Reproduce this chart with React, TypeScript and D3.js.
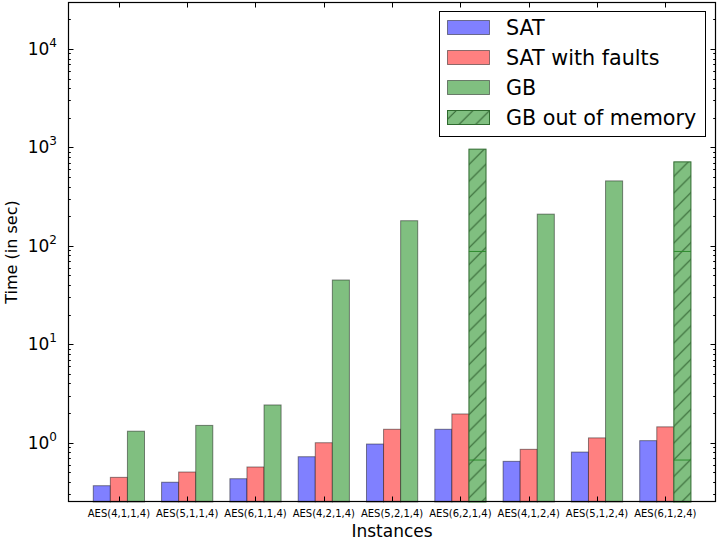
import React, { useEffect, useRef } from "react"
import * as d3 from "d3"

const W = 718
const H = 540
const margin = { top: 2, right: 2, bottom: 38, left: 68 }

const instances = [
	"AES(4,1,1,4)", "AES(5,1,1,4)", "AES(6,1,1,4)", "AES(4,2,1,4)", "AES(5,2,1,4)",
	"AES(6,2,1,4)", "AES(4,1,2,4)", "AES(5,1,2,4)", "AES(6,1,2,4)",
]
const satTimes = [0.366, 0.397, 0.431, 0.721, 0.97, 1.37, 0.647, 0.804, 1.05]
const satFaultTimes = [0.445, 0.504, 0.567, 1.0, 1.37, 1.96, 0.857, 1.12, 1.45]
const gbTimes = [1.31, 1.5, 2.42, 45, 180, 960, 210, 457, 713]
// true when GB ran out of memory (bar drawn hatched)
const gbOutOfMemory = [false, false, false, false, false, true, false, false, true]
// thin lines visible inside the hatched bars
const gbInnerMarks = [0.667, 87.7]

const legendItems = [
	{ label: "SAT", fill: "#8080ff", hatch: false },
	{ label: "SAT with faults", fill: "#ff8080", hatch: false },
	{ label: "GB", fill: "#80bf80", hatch: false },
	{ label: "GB out of memory", fill: "#80bf80", hatch: true },
]

const yTickExps = [0, 1, 2, 3, 4]
const BAR_W = 0.25

const FONT = "'DejaVu Sans', sans-serif"

export default function App() {
	const svgRef = useRef<SVGSVGElement>(null)

	useEffect(() => {
		const svg = d3.select(svgRef.current)
		svg.selectAll("*").remove()

		const x0 = margin.left
		const x1 = W - margin.right
		const y0 = margin.top
		const y1 = H - margin.bottom

		const x = d3.scaleLinear().domain([-0.37, 9.117]).range([x0, x1])
		const y = d3.scaleLog().domain([0.25, 30000]).range([y1, y0])

		const defs = svg.append("defs")
		const hs = 16.67
		const pat = defs.append("pattern")
			.attr("id", "hatch")
			.attr("patternUnits", "userSpaceOnUse")
			.attr("width", hs)
			.attr("height", hs)
		pat.append("rect").attr("width", hs).attr("height", hs).attr("fill", "#80bf80")
		pat.append("path")
			.attr("d", `M0,${hs} L${hs},0 M${-hs / 2},${hs / 2} L${hs / 2},${-hs / 2} M${hs / 2},${hs * 1.5} L${hs * 1.5},${hs / 2}`)
			.attr("stroke", "#2f5f2f")
			.attr("stroke-width", 1)

		const g = svg.append("g")

		const series = [
			{ vals: satTimes, off: 0, fill: "#8080ff" },
			{ vals: satFaultTimes, off: BAR_W, fill: "#ff8080" },
			{ vals: gbTimes, off: BAR_W * 2, fill: "#80bf80" },
		]

		series.forEach((s, si) => {
			g.selectAll(null)
				.data(s.vals)
				.enter()
				.append("rect")
				.attr("x", (_, i) => x(i + s.off))
				.attr("y", (d) => y(d))
				.attr("width", x(BAR_W) - x(0))
				.attr("height", (d) => y1 - y(d))
				.attr("fill", (_, i) => (si === 2 && gbOutOfMemory[i] ? "url(#hatch)" : s.fill))
				.attr("stroke", (_, i) => (si === 2 && gbOutOfMemory[i] ? "#2f6a2f" : "#000"))
				.attr("stroke-opacity", (_, i) => (si === 2 && gbOutOfMemory[i] ? 1 : 0.45))
				.attr("stroke-width", 1)
		})

		// inner marks on hatched bars
		gbOutOfMemory.forEach((oom, i) => {
			if (!oom) return
			gbInnerMarks.forEach((v) => {
				g.append("line")
					.attr("x1", x(i + BAR_W * 2))
					.attr("x2", x(i + BAR_W * 3))
					.attr("y1", y(v))
					.attr("y2", y(v))
					.attr("stroke", "#2e8b2e")
					.attr("stroke-width", 1)
			})
		})

		// ticks
		const ax = svg.append("g").attr("stroke", "#000").attr("stroke-width", 1)
		const majorLen = 5.5
		const minorLen = 2.8
		yTickExps.forEach((e) => {
			const yy = Math.round(y(Math.pow(10, e))) + 0.5
			ax.append("line").attr("x1", x0).attr("x2", x0 + majorLen).attr("y1", yy).attr("y2", yy)
			ax.append("line").attr("x1", x1).attr("x2", x1 - majorLen).attr("y1", yy).attr("y2", yy)
		})
		for (let e = -1; e <= 4; e++) {
			for (let m = 2; m <= 9; m++) {
				const v = m * Math.pow(10, e)
				if (v < 0.25 || v > 30000) continue
				const yy = Math.round(y(v)) + 0.5
				ax.append("line").attr("x1", x0).attr("x2", x0 + minorLen).attr("y1", yy).attr("y2", yy)
				ax.append("line").attr("x1", x1).attr("x2", x1 - minorLen).attr("y1", yy).attr("y2", yy)
			}
		}
		instances.forEach((_, i) => {
			const xx = Math.round(x(i + BAR_W * 1.5)) + 0.5
			ax.append("line").attr("x1", xx).attr("x2", xx).attr("y1", y1).attr("y2", y1 - majorLen)
			ax.append("line").attr("x1", xx).attr("x2", xx).attr("y1", y0).attr("y2", y0 + majorLen)
		})

		// frame
		svg.append("rect")
			.attr("x", x0 + 0.5)
			.attr("y", y0 + 0.5)
			.attr("width", x1 - x0 - 1)
			.attr("height", y1 - y0 - 1)
			.attr("fill", "none")
			.attr("stroke", "#000")
			.attr("stroke-width", 1.2)

		// y tick labels
		yTickExps.forEach((e) => {
			const t = svg.append("text")
				.attr("x", x0 - 11)
				.attr("y", y(Math.pow(10, e)) + 6)
				.attr("text-anchor", "end")
				.attr("font-family", FONT)
				.attr("font-size", 17)
			t.append("tspan").text("10")
			t.append("tspan").attr("font-size", 12).attr("dy", -8).text(String(e))
		})

		// x tick labels
		svg.selectAll(null)
			.data(instances)
			.enter()
			.append("text")
			.attr("x", (_, i) => x(i + BAR_W * 1.5))
			.attr("y", y1 + 15)
			.attr("text-anchor", "middle")
			.attr("font-family", FONT)
			.attr("font-size", 10)
			.text((d) => d)

		svg.append("text")
			.attr("x", (x0 + x1) / 2)
			.attr("y", 537)
			.attr("text-anchor", "middle")
			.attr("font-family", FONT)
			.attr("font-size", 17)
			.text("Instances")

		svg.append("text")
			.attr("transform", `translate(17,${(y0 + y1) / 2}) rotate(-90)`)
			.attr("text-anchor", "middle")
			.attr("font-family", FONT)
			.attr("font-size", 16)
			.text("Time (in sec)")

		// legend
		const lg = svg.append("g")
		lg.append("rect")
			.attr("x", 439.5)
			.attr("y", 11.5)
			.attr("width", 266)
			.attr("height", 125)
			.attr("fill", "#fff")
			.attr("stroke", "#000")
			.attr("stroke-width", 1)
		legendItems.forEach((it, i) => {
			const cy = 27.5 + i * 30
			lg.append("rect")
				.attr("x", 447.5)
				.attr("y", cy - 7)
				.attr("width", 42)
				.attr("height", 14)
				.attr("fill", it.hatch ? "url(#hatch)" : it.fill)
				.attr("stroke", it.hatch ? "#2f6a2f" : "#000")
				.attr("stroke-opacity", it.hatch ? 1 : 0.45)
			lg.append("text")
				.attr("x", 506)
				.attr("y", cy + 7.5)
				.attr("font-family", FONT)
				.attr("font-size", 20.7)
				.text(it.label)
		})
	}, [])

	return (
		<div style={{ position: "absolute", left: 0, top: 0, width: W, height: H }}>
			<svg ref={svgRef} width={W} height={H} style={{ display: "block", background: "#fff" }}></svg>
		</div>
	)
}
